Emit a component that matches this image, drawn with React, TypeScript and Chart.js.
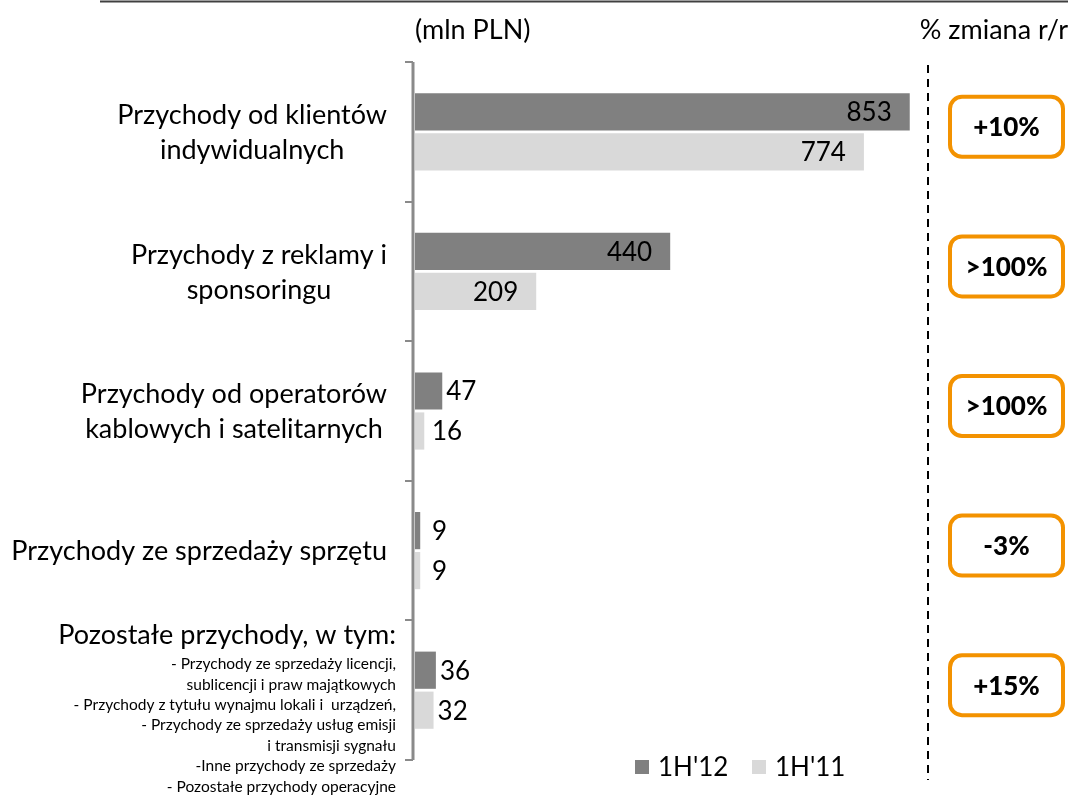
import React, { useEffect, useRef } from "react";
import { Chart, registerables } from "chart.js";

Chart.register(...registerables);

const categories: string[][] = [
  ["Przychody od klientów", "indywidualnych"],
  ["Przychody z reklamy i", "sponsoringu"],
  ["Przychody od operatorów", "kablowych i satelitarnych"],
  ["Przychody ze sprzedaży sprzętu"],
  ["Pozostałe przychody, w tym:"],
];
const otherDetails: string[] = [
  "- Przychody ze sprzedaży licencji,",
  "sublicencji i praw majątkowych",
  "- Przychody z tytułu wynajmu lokali i  urządzeń,",
  "- Przychody ze sprzedaży usług emisji",
  "i transmisji sygnału",
  "-Inne przychody ze sprzedaży",
  "- Pozostałe przychody operacyjne",
];
const seriesNames = ["1H'12", "1H'11"];
const values1H12 = [853, 440, 47, 9, 36];
const values1H11 = [774, 209, 16, 9, 32];
const changeLabels = ["+10%", ">100%", ">100%", "-3%", "+15%"];
const unitTitle = "(mln PLN)";
const changeTitle = "% zmiana r/r";

const DARK = "#808080";
const LIGHT = "#d9d9d9";
const ORANGE = "#f39200";
const FONT = "Lato";

const overlay = {
  id: "overlay",
  afterDatasetsDraw(chart: any) {
    const ctx = chart.ctx as CanvasRenderingContext2D;
    const area = chart.chartArea;
    const y = chart.scales.y;
    ctx.save();

    // top rule
    ctx.strokeStyle = "#404040";
    ctx.lineWidth = 2;
    ctx.beginPath();
    ctx.moveTo(100, 1.5);
    ctx.lineTo(1068, 1.5);
    ctx.stroke();

    // titles
    ctx.fillStyle = "#000";
    ctx.font = `27px ${FONT}`;
    ctx.textBaseline = "middle";
    ctx.textAlign = "left";
    ctx.fillText(unitTitle, 415, 30);
    ctx.textAlign = "right";
    ctx.fillText(changeTitle, 1068, 30);

    // axis line and ticks
    const n = categories.length;
    const band = (area.bottom - area.top) / n;
    ctx.strokeStyle = "#8a8a8a";
    ctx.lineWidth = 3;
    ctx.beginPath();
    ctx.moveTo(413, area.top);
    ctx.lineTo(413, area.bottom);
    ctx.stroke();
    ctx.lineWidth = 2;
    for (let i = 0; i <= n; i++) {
      const ty = Math.round(area.top + band * i);
      ctx.beginPath();
      ctx.moveTo(405, ty);
      ctx.lineTo(413, ty);
      ctx.stroke();
    }

    // category labels
    ctx.fillStyle = "#000";
    categories.forEach((lines, i) => {
      const cy = y.getPixelForValue(i);
      if (i === categories.length - 1) {
        ctx.font = `27px ${FONT}`;
        ctx.textAlign = "right";
        ctx.fillText(lines[0], 396, cy - 55);
        ctx.font = `15.5px ${FONT}`;
        otherDetails.forEach((t, k) => {
          ctx.fillText(t, 396, cy - 26 + k * 20.4);
        });
      } else {
        ctx.font = `27px ${FONT}`;
        const widths = lines.map((l) => ctx.measureText(l).width);
        const maxW = Math.max(...widths);
        const cx = 387 - maxW / 2;
        ctx.textAlign = "center";
        const lh = 35;
        lines.forEach((l, k) => {
          ctx.fillText(l, cx, cy + (k - (lines.length - 1) / 2) * lh + 1);
        });
      }
    });

    // data labels
    ctx.font = `26px ${FONT}`;
    chart.data.datasets.forEach((ds: any, di: number) => {
      const meta = chart.getDatasetMeta(di);
      meta.data.forEach((bar: any, i: number) => {
        const v = ds.data[i];
        const end = bar.x;
        ctx.fillStyle = "#000";
        if (v > 100) {
          ctx.textAlign = "right";
          ctx.fillText(String(v), end - 18, bar.y + 1);
        } else {
          ctx.textAlign = "left";
          ctx.fillText(String(v), Math.max(end + 4, 432), bar.y + 1);
        }
      });
    });

    // dashed separator
    ctx.strokeStyle = "#000";
    ctx.lineWidth = 2;
    ctx.setLineDash([8, 6]);
    ctx.beginPath();
    ctx.moveTo(928, 65);
    ctx.lineTo(928, 780);
    ctx.stroke();
    ctx.setLineDash([]);

    // change boxes
    changeLabels.forEach((t, i) => {
      const cy = y.getPixelForValue(i) - 5;
      const bx = 950, bw = 113, bh = 60;
      const by = cy - bh / 2;
      ctx.strokeStyle = ORANGE;
      ctx.lineWidth = 4;
      ctx.beginPath();
      (ctx as any).roundRect(bx, by, bw, bh, 12);
      ctx.stroke();
      ctx.fillStyle = "#000";
      ctx.font = `900 26px ${FONT}`;
      ctx.textAlign = "center";
      ctx.fillText(t, bx + bw / 2, cy + 1);
    });

    // legend
    ctx.font = `26px ${FONT}`;
    ctx.textAlign = "left";
    ctx.fillStyle = DARK;
    ctx.fillRect(635, 760, 14, 14);
    ctx.fillStyle = "#000";
    ctx.fillText(seriesNames[0], 658, 768);
    ctx.fillStyle = LIGHT;
    ctx.fillRect(752, 760, 14, 14);
    ctx.fillStyle = "#000";
    ctx.fillText(seriesNames[1], 775, 768);

    ctx.restore();
  },
};

export default function App() {
  const ref = useRef<HTMLCanvasElement>(null);
  useEffect(() => {
    if (!ref.current) return;
    const chart = new Chart(ref.current, {
      type: "bar",
      data: {
        labels: categories.map((c) => c.join(" ")),
        datasets: [
          {
            label: seriesNames[0],
            data: values1H12,
            backgroundColor: DARK,
            categoryPercentage: 0.573,
            barPercentage: 0.93,
          },
          {
            label: seriesNames[1],
            data: values1H11,
            backgroundColor: LIGHT,
            categoryPercentage: 0.573,
            barPercentage: 0.93,
          },
        ],
      },
      options: {
        indexAxis: "y",
        responsive: false,
        animation: false,
        devicePixelRatio: 1,
        layout: { padding: { left: 415, right: 137, top: 62, bottom: 40 } },
        scales: {
          x: { display: false, min: 0, max: 900 },
          y: { display: false },
        },
        plugins: {
          legend: { display: false },
          tooltip: { enabled: false },
        },
      },
      plugins: [overlay],
    });
    return () => chart.destroy();
  }, []);
  return (
    <div style={{ position: "absolute", left: 0, top: 0, width: 1074, height: 800, background: "#fff" }}>
      <canvas ref={ref} width={1074} height={800} style={{ display: "block" }} />
    </div>
  );
}
